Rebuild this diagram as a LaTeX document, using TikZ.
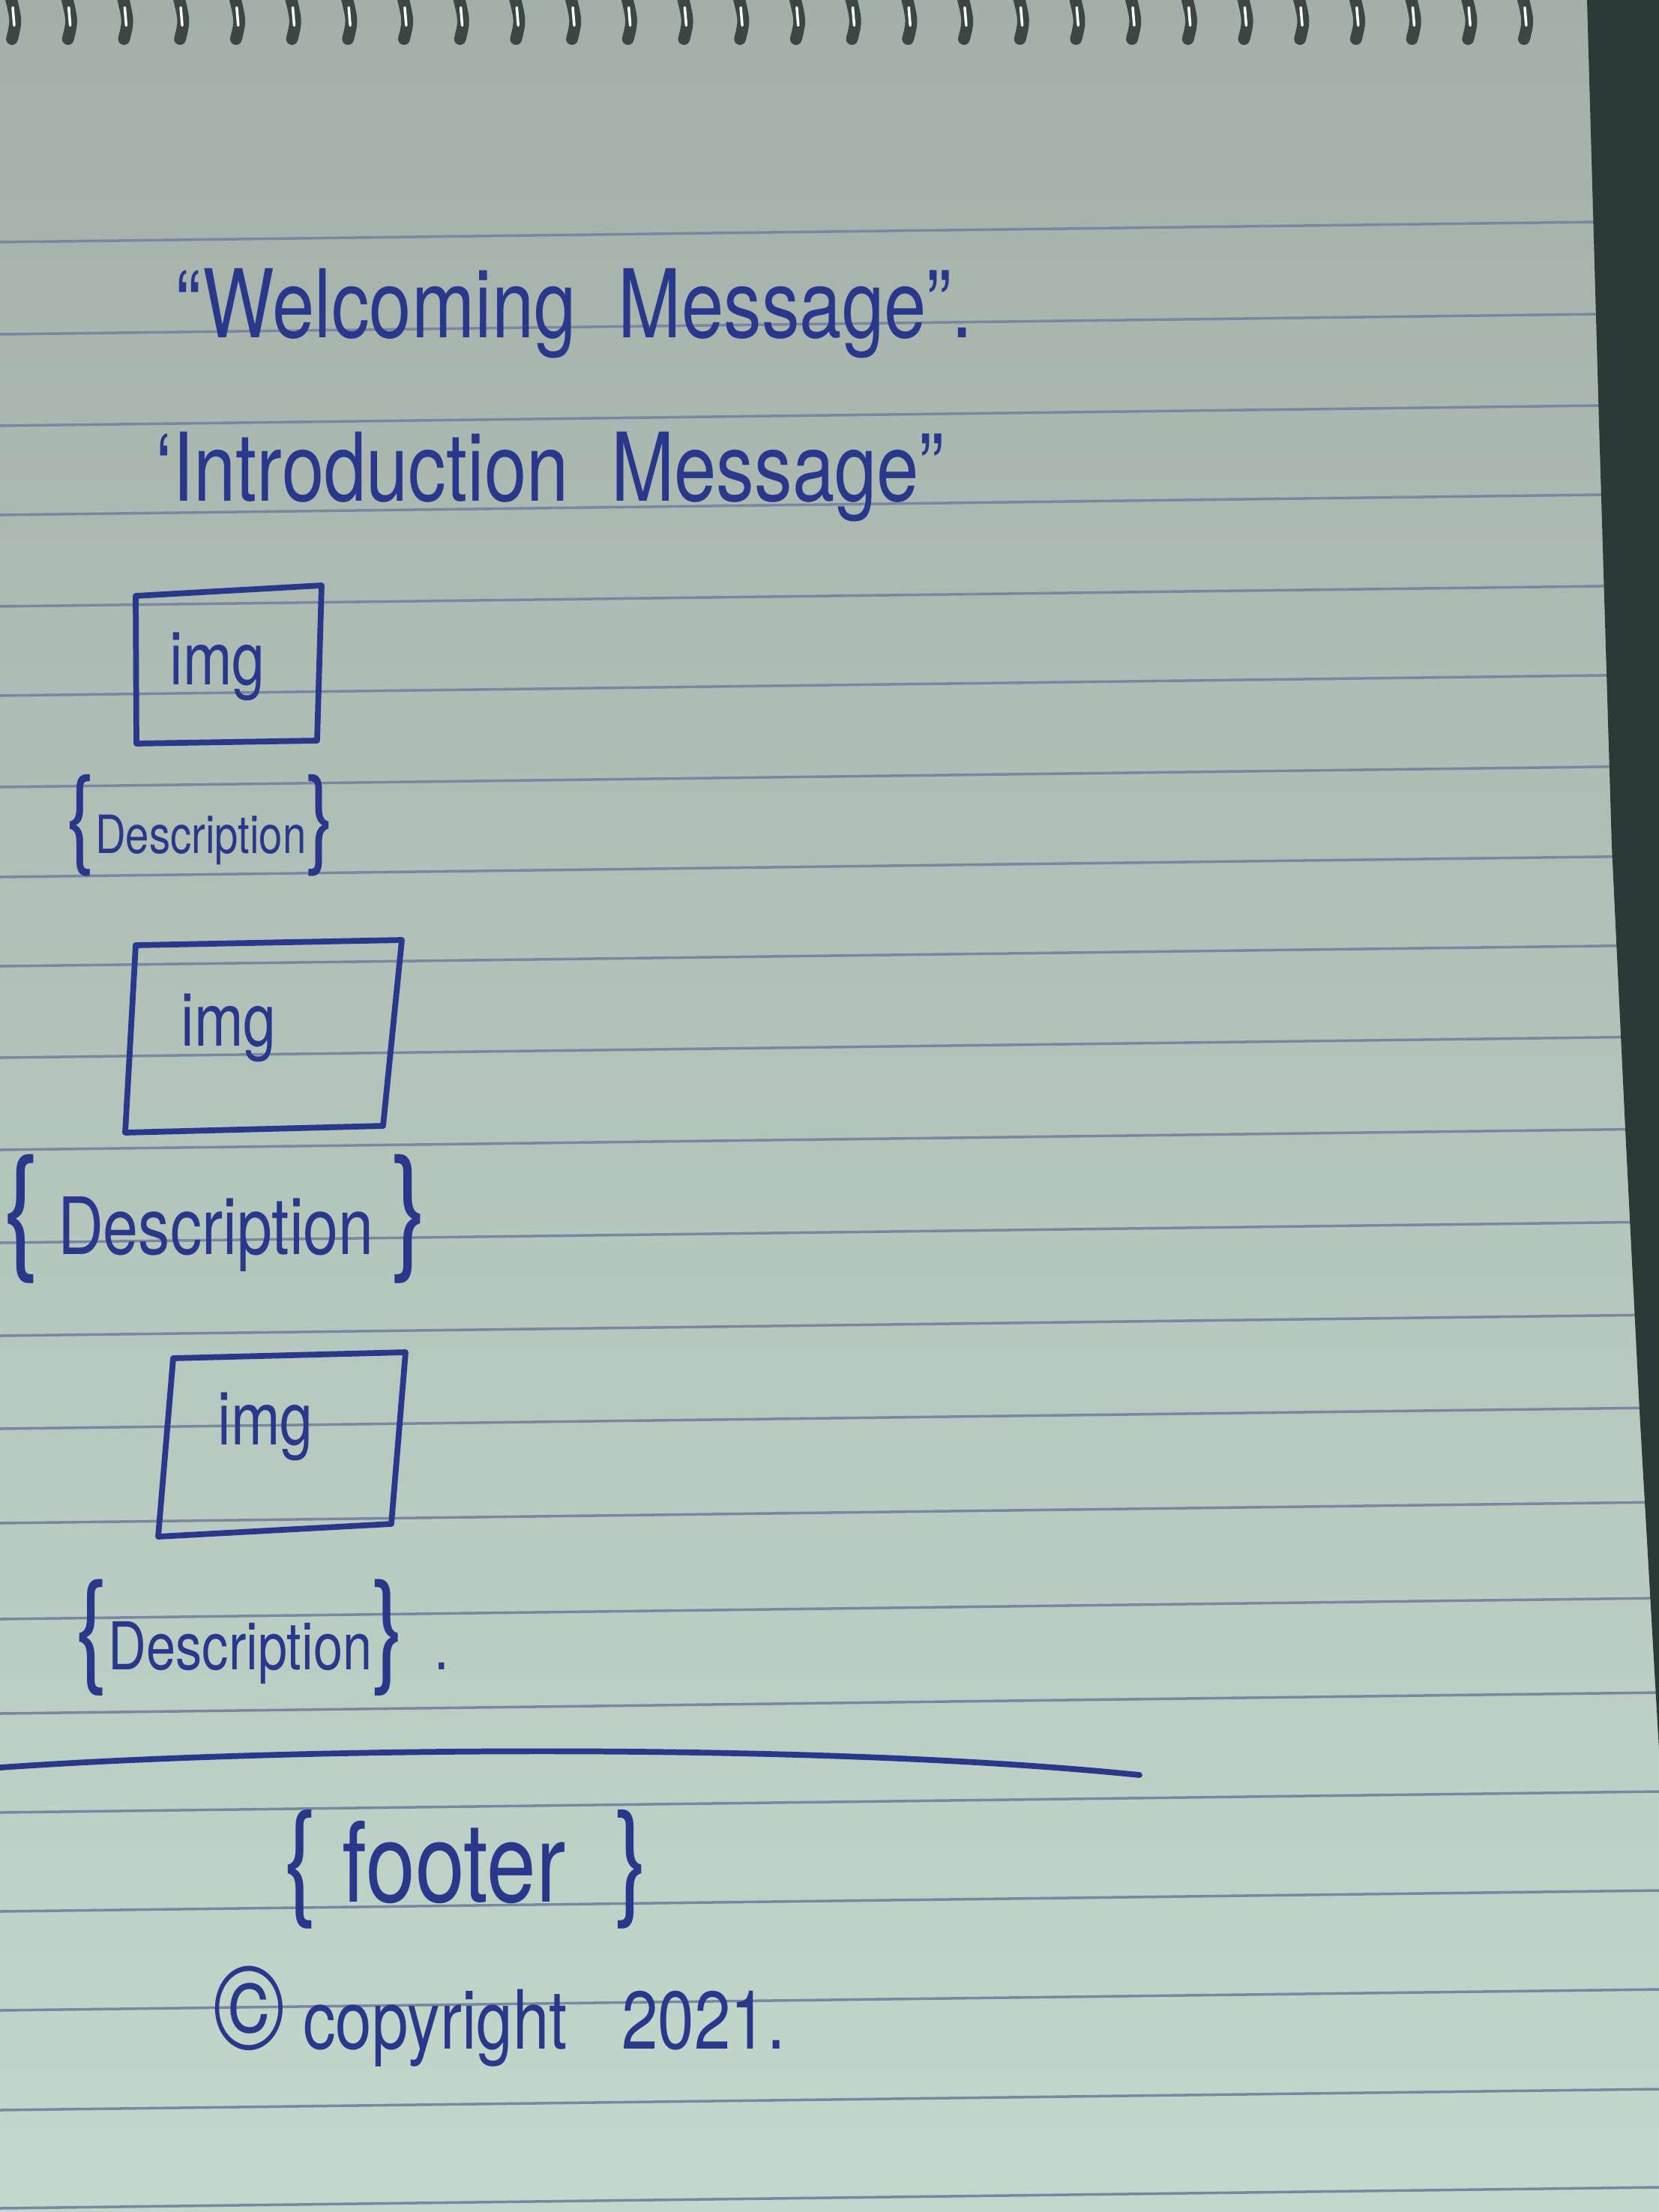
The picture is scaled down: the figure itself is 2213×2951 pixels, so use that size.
\documentclass[tikz,border=0pt]{standalone}
\usepackage{fontspec}
\newfontfamily\handfont[FakeStretch=0.8]{TeX Gyre Heros}
\usetikzlibrary{positioning}
\definecolor{ink}{RGB}{42,56,140}
\definecolor{ruleblue}{RGB}{124,134,160}
\definecolor{papertop}{RGB}{163,176,169}
\definecolor{papermid}{RGB}{186,205,195}
\definecolor{paperbot}{RGB}{195,215,204}
\definecolor{desk}{RGB}{44,58,55}
\definecolor{wiregray}{RGB}{62,70,68}
\tikzset{
    pen/.style={draw=ink,line width=2.2pt,line join=round,line cap=round},
    ruling/.style={draw=ruleblue,line width=1pt},
    wire/.style={draw=wiregray,line width=4.5pt,line cap=round},
    shine/.style={draw=white,line width=1pt,line cap=round},
    every node/.style={text=ink,inner sep=0pt,anchor=base west},
    headline/.style={font={\handfont\fontsize{36}{40}\selectfont}},
    imgtag/.style={font={\handfont\fontsize{28}{32}\selectfont}},
}
\newcommand{\bropen}[1]{{\fontsize{#1}{#1}\selectfont\{}}
\newcommand{\brclose}[1]{{\fontsize{#1}{#1}\selectfont\}}}

\begin{document}
\begin{tikzpicture}[x=0.01cm,y=-0.01cm]
    \useasboundingbox (0,0) rectangle (2213,2951);
    % paper and desk
    \shade[top color=papertop,middle color=papermid,bottom color=paperbot] (0,0) rectangle (2213,2951);
    \foreach \y in {295,418,540,659,781,900,1022,1142,1261,1383,1506,1630,1754,1878,2004,2132,2258,2390,2522,2654,2787,2918}
        \draw[ruling] (0,\y+28) -- (2213,\y);
    \fill[desk] (2117,0) -- (2133,565) -- (2150,1129) -- (2168,1506) -- (2187,1882) -- (2213,2334) -- (2213,0) -- cycle;
    \foreach \k in {0,...,27} {
        \pgfmathsetmacro\xc{14+74.7*\k}
        \draw[wire] (\xc,-5) .. controls (\xc+8,28) .. (\xc+2,52);
        \draw[shine] (\xc+3,10) -- (\xc+5,34);
    }

    % header
    \node[headline] (welcome) at (234,450) {“Welcoming\ \ Message”.};
    \node[headline] (intro) at (207,668) {‘Introduction\ \ Message”};

    % image blocks
    \draw[pen] (181,795) -- (429,781) -- (423,988) -- (182,992) -- cycle;
    \node[imgtag] (img1) at (226,913) {img};
    \node[font={\handfont\fontsize{20}{24}\selectfont}] (desc1) at (88,1138) {\bropen{41}Description\brclose{41}};

    \draw[pen] (181,1261) -- (536,1254) -- (511,1502) -- (167,1511) -- cycle;
    \node[imgtag] (img2) at (241,1395) {img};
    \node[font={\handfont\fontsize{30}{34}\selectfont}] (desc2) at (4,1673) {\bropen{52}\ Description\ \brclose{52}};

    \draw[pen] (231,1812) -- (541,1804) -- (522,2033) -- (211,2050) -- cycle;
    \node[imgtag] (img3) at (290,1927) {img};
    \node[font={\handfont\fontsize{25}{29}\selectfont}] (desc3) at (100,2227) {\bropen{47}Description\brclose{47}\ \ .};

    % footer
    \draw[pen] (0,2358) .. controls (400,2330) and (1100,2325) .. (1520,2368);
    \node[font={\handfont\fontsize{42}{46}\selectfont}] (footer) at (378,2537) {\bropen{48}\ footer\ \ \brclose{48}};
    \node[font={\handfont\fontsize{31}{35}\selectfont}] (copy) at (284,2733) {{\fontsize{46}{46}\selectfont ©}\ copyright\ \ \ 2021.};
\end{tikzpicture}
\end{document}
